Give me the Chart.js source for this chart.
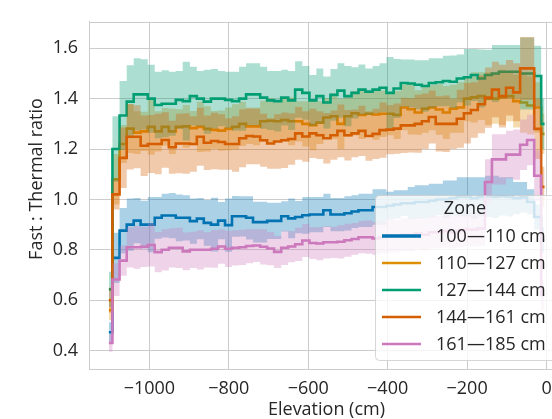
<!DOCTYPE html>
<html>
<head>
<meta charset="utf-8">
<script src="https://cdn.jsdelivr.net/npm/chart.js@4.4.1/dist/chart.umd.min.js"></script>
<style>
  html, body { margin: 0; padding: 0; overflow: hidden; background: #fff; }
</style>
</head>
<body>
<canvas id="chart" width="600" height="419"></canvas>
<script>
// bin centres (cm)
const elevation = [
  -1102, -1084, -1066, -1048, -1031, -1013, -995, -978, -960, -942,
  -925, -907, -889, -872, -854, -836, -818, -801, -783, -765,
  -748, -730, -712, -695, -677, -659, -642, -624, -606, -588,
  -571, -553, -535, -518, -500, -482, -465, -447, -429, -412,
  -394, -376, -358, -341, -323, -305, -288, -270, -252, -235,
  -217, -199, -182, -164, -146, -129, -111, -93, -75, -58,
  -40, -22, -5
];

const zones = ["100\u2014110 cm", "110\u2014127 cm", "127\u2014144 cm", "144\u2014161 cm", "161\u2014185 cm"];
const legendTitle = "Zone";
const xTitle = "Elevation (cm)";
const yTitle = "Fast : Thermal ratio";

const xTicks = [-1000, -800, -600, -400, -200, 0];
const yTicks = [0.4, 0.6, 0.8, 1.0, 1.2, 1.4, 1.6];

// zone 100-110
const ratioZ1 = [
  0.473, 0.768, 0.876, 0.90, 0.916, 0.90, 0.90, 0.927, 0.936, 0.936,
  0.927, 0.927, 0.914, 0.924, 0.907, 0.90, 0.916, 0.898, 0.933, 0.933,
  0.927, 0.91, 0.91, 0.915, 0.915, 0.933, 0.925, 0.93, 0.937, 0.94,
  0.94, 0.957, 0.94, 0.94, 0.945, 0.952, 0.957, 0.957, 0.97, 0.97,
  0.975, 0.98, 0.985, 0.985, 0.99, 0.99, 0.995, 1.0, 1.0, 1.005,
  1.01, 1.01, 1.005, 1.01, 1.012, 1.01, 1.012, 1.01, 1.005, 1.008,
  0.99, 0.93, 0.84
];
const errZ1 = [
  0.04, 0.10, 0.09, 0.104, 0.09, 0.095, 0.11, 0.083, 0.087, 0.09,
  0.093, 0.09, 0.09, 0.082, 0.091, 0.107, 0.074, 0.106, 0.081, 0.08,
  0.086, 0.081, 0.081, 0.072, 0.072, 0.06, 0.079, 0.064, 0.073, 0.07,
  0.07, 0.066, 0.066, 0.066, 0.068, 0.065, 0.066, 0.066, 0.07, 0.07,
  0.055, 0.056, 0.051, 0.064, 0.066, 0.066, 0.067, 0.062, 0.075, 0.07,
  0.078, 0.078, 0.083, 0.078, 0.082, 0.084, 0.076, 0.078, 0.064, 0.061,
  0.05, 0.05, 0.05
];

// zone 110-127
const ratioZ2 = [
  0.56, 1.08, 1.22, 1.281, 1.265, 1.27, 1.288, 1.27, 1.288, 1.27,
  1.288, 1.29, 1.283, 1.288, 1.28, 1.276, 1.273, 1.28, 1.288, 1.30,
  1.29, 1.29, 1.31, 1.312, 1.31, 1.315, 1.31, 1.31, 1.30, 1.295,
  1.305, 1.325, 1.33, 1.30, 1.33, 1.342, 1.335, 1.34, 1.337, 1.34,
  1.34, 1.335, 1.365, 1.358, 1.345, 1.36, 1.365, 1.357, 1.345, 1.36,
  1.365, 1.40, 1.405, 1.41, 1.40, 1.40, 1.405, 1.41, 1.39, 1.385,
  1.373, 1.365, 1.26
];
const errZ2 = [
  0.04, 0.10, 0.075, 0.097, 0.085, 0.078, 0.11, 0.08, 0.075, 0.09,
  0.07, 0.085, 0.068, 0.10, 0.09, 0.075, 0.08, 0.085, 0.09, 0.088,
  0.07, 0.075, 0.082, 0.09, 0.078, 0.085, 0.095, 0.08, 0.09, 0.10,
  0.085, 0.078, 0.09, 0.10, 0.082, 0.088, 0.095, 0.09, 0.10, 0.092,
  0.085, 0.095, 0.09, 0.10, 0.088, 0.095, 0.09, 0.10, 0.105, 0.095,
  0.10, 0.09, 0.10, 0.095, 0.105, 0.10, 0.11, 0.10, 0.105, 0.12,
  0.115, 0.10, 0.08
];

// zone 127-144
const ratioZ3 = [
  0.643, 1.20, 1.333, 1.388, 1.417, 1.417, 1.40, 1.375, 1.38, 1.38,
  1.395, 1.39, 1.41, 1.40, 1.388, 1.40, 1.40, 1.395, 1.39, 1.40,
  1.417, 1.417, 1.404, 1.393, 1.39, 1.404, 1.393, 1.436, 1.423, 1.393,
  1.41, 1.385, 1.415, 1.432, 1.41, 1.423, 1.436, 1.428, 1.436, 1.443,
  1.423, 1.44, 1.462, 1.46, 1.455, 1.45, 1.462, 1.465, 1.47, 1.467,
  1.48, 1.485, 1.494, 1.48, 1.494, 1.50, 1.507, 1.507, 1.507, 1.50,
  1.50, 1.49, 1.30
];
const errZ3 = [
  0.07, 0.13, 0.137, 0.145, 0.143, 0.139, 0.135, 0.132, 0.133, 0.127,
  0.115, 0.156, 0.117, 0.11, 0.127, 0.118, 0.11, 0.112, 0.117, 0.127,
  0.123, 0.123, 0.123, 0.117, 0.12, 0.111, 0.117, 0.112, 0.107, 0.101,
  0.11, 0.103, 0.103, 0.108, 0.12, 0.102, 0.10, 0.092, 0.094, 0.097,
  0.142, 0.117, 0.093, 0.095, 0.097, 0.102, 0.098, 0.095, 0.10, 0.104,
  0.095, 0.112, 0.103, 0.115, 0.10, 0.113, 0.106, 0.106, 0.106, 0.143,
  0.143, 0.12, 0.10
];

// zone 144-161
const ratioZ4 = [
  0.60, 1.02, 1.165, 1.249, 1.249, 1.213, 1.22, 1.22, 1.236, 1.207,
  1.222, 1.222, 1.22, 1.249, 1.225, 1.232, 1.228, 1.22, 1.22, 1.243,
  1.252, 1.25, 1.235, 1.222, 1.23, 1.235, 1.24, 1.262, 1.25, 1.262,
  1.255, 1.243, 1.255, 1.272, 1.255, 1.262, 1.272, 1.252, 1.26, 1.275,
  1.277, 1.281, 1.294, 1.294, 1.30, 1.31, 1.327, 1.30, 1.30, 1.30,
  1.32, 1.342, 1.355, 1.378, 1.404, 1.436, 1.41, 1.443, 1.425, 1.52,
  1.52, 1.28, 1.05
];
const errZ4 = [
  0.05, 0.06, 0.12, 0.13, 0.125, 0.12, 0.115, 0.12, 0.11, 0.105,
  0.118, 0.12, 0.11, 0.115, 0.108, 0.112, 0.11, 0.102, 0.11, 0.115,
  0.112, 0.11, 0.105, 0.10, 0.108, 0.11, 0.102, 0.105, 0.10, 0.098,
  0.095, 0.10, 0.098, 0.105, 0.10, 0.095, 0.10, 0.098, 0.10, 0.11,
  0.098, 0.10, 0.11, 0.108, 0.115, 0.11, 0.105, 0.11, 0.112, 0.10,
  0.115, 0.12, 0.11, 0.115, 0.12, 0.11, 0.125, 0.11, 0.115, 0.125,
  0.125, 0.12, 0.08
];

// zone 161-185
const ratioZ5 = [
  0.43, 0.682, 0.757, 0.81, 0.81, 0.812, 0.819, 0.791, 0.80, 0.808,
  0.808, 0.794, 0.80, 0.80, 0.80, 0.804, 0.813, 0.804, 0.808, 0.81,
  0.815, 0.817, 0.812, 0.805, 0.792, 0.808, 0.813, 0.822, 0.837, 0.827,
  0.825, 0.83, 0.83, 0.832, 0.838, 0.843, 0.85, 0.85, 0.845, 0.85,
  0.855, 0.855, 0.86, 0.86, 0.865, 0.86, 0.87, 0.87, 0.875, 0.87,
  0.875, 0.88, 0.88, 0.885, 1.069, 1.159, 1.159, 1.178, 1.178, 1.217,
  1.236, 1.094, 0.62
];
const errZ5 = [
  0.035, 0.065, 0.06, 0.08, 0.085, 0.08, 0.085, 0.08, 0.082, 0.078,
  0.08, 0.075, 0.072, 0.078, 0.07, 0.075, 0.068, 0.072, 0.07, 0.07,
  0.068, 0.065, 0.07, 0.066, 0.064, 0.068, 0.062, 0.066, 0.065, 0.063,
  0.066, 0.064, 0.062, 0.066, 0.065, 0.063, 0.064, 0.066, 0.065, 0.065,
  0.066, 0.064, 0.065, 0.066, 0.065, 0.064, 0.066, 0.065, 0.066, 0.065,
  0.064, 0.066, 0.068, 0.07, 0.09, 0.10, 0.10, 0.095, 0.10, 0.10,
  0.10, 0.10, 0.06
];

const ratios = [ratioZ1, ratioZ2, ratioZ3, ratioZ4, ratioZ5];
const errs = [errZ1, errZ2, errZ3, errZ4, errZ5];

// seaborn colorblind
const palette = ["#0173b2", "#de8f05", "#029e73", "#d55e00", "#cc78bc"];
const FONT = "'Open Sans', Lato, sans-serif";
const FSIZE = 18;
const TEXT = "#262626";
const GRID = "#cccccc";

function withAlpha(hex, a) {
  const n = parseInt(hex.slice(1), 16);
  return `rgba(${(n >> 16) & 255},${(n >> 8) & 255},${n & 255},${a})`;
}

const datasets = [];
ratios.forEach((vals, k) => {
  const base = 100 - 10 * k;  // later zones drawn on top
  const hi = vals.map((v, i) => ({ x: elevation[i], y: v + errs[k][i] }));
  const lo = vals.map((v, i) => ({ x: elevation[i], y: v - errs[k][i] }));
  const mid = vals.map((v, i) => ({ x: elevation[i], y: v }));
  datasets.push({
    data: hi, stepped: "middle", pointRadius: 0, borderWidth: 0,
    borderColor: "rgba(0,0,0,0)", fill: false, order: base + 2
  });
  datasets.push({
    data: lo, stepped: "middle", pointRadius: 0, borderWidth: 0,
    borderColor: "rgba(0,0,0,0)", fill: "-1",
    backgroundColor: withAlpha(palette[k], 0.33), order: base + 1
  });
  datasets.push({
    label: zones[k], data: mid, stepped: "middle", pointRadius: 0,
    borderWidth: 2.6, borderColor: palette[k], fill: false, order: base
  });
});

// frame + y title
const frame = {
  id: "frame",
  beforeDatasetsDraw(chart) {
    const { ctx, chartArea: a } = chart;
    ctx.save();
    ctx.strokeStyle = GRID;
    ctx.lineWidth = 1;
    ctx.strokeRect(Math.round(a.left) + 0.5, Math.round(a.top) + 0.5,
      Math.round(a.right - a.left), Math.round(a.bottom - a.top));
    ctx.restore();
  },
  afterDraw(chart) {
    const ctx = chart.ctx;
    ctx.save();
    ctx.translate(37, 179);
    ctx.rotate(-Math.PI / 2);
    ctx.fillStyle = TEXT;
    ctx.font = FSIZE + "px " + FONT;
    ctx.textAlign = "center";
    ctx.textBaseline = "middle";
    ctx.fillText(yTitle, 0, 0);
    ctx.restore();
  }
};

// matplotlib-like legend box over the plot
const zoneLegend = {
  id: "zoneLegend",
  afterDraw(chart) {
    const ctx = chart.ctx;
    const items = chart.data.datasets.filter(d => d.label);
    ctx.save();
    const x = 375.5, y = 195.5, w = 200, h = 165, r = 4;
    ctx.beginPath();
    ctx.moveTo(x + r, y);
    ctx.lineTo(x + w - r, y);
    ctx.arcTo(x + w, y, x + w, y + r, r);
    ctx.lineTo(x + w, y + h - r);
    ctx.arcTo(x + w, y + h, x + w - r, y + h, r);
    ctx.lineTo(x + r, y + h);
    ctx.arcTo(x, y + h, x, y + h - r, r);
    ctx.lineTo(x, y + r);
    ctx.arcTo(x, y, x + r, y, r);
    ctx.closePath();
    ctx.fillStyle = "rgba(255,255,255,0.8)";
    ctx.fill();
    ctx.strokeStyle = "rgba(204,204,204,0.8)";
    ctx.lineWidth = 1;
    ctx.stroke();

    ctx.fillStyle = TEXT;
    ctx.font = FSIZE + "px " + FONT;
    ctx.textBaseline = "middle";
    ctx.textAlign = "center";
    ctx.fillText(legendTitle, 465, 209);
    ctx.textAlign = "left";
    items.forEach((d, i) => {
      const yy = 236 + i * 27;
      ctx.strokeStyle = d.borderColor;
      ctx.lineWidth = i === 0 ? 3.6 : 2.6;
      ctx.beginPath();
      ctx.moveTo(382, yy);
      ctx.lineTo(421, yy);
      ctx.stroke();
      ctx.fillText(d.label, 436, yy + 1);
    });
    ctx.restore();
  }
};

new Chart(document.getElementById("chart"), {
  type: "line",
  data: { datasets: datasets },
  options: {
    responsive: false,
    animation: false,
    events: [],
    layout: { padding: { top: 12, right: 36, left: 0, bottom: 0 } },
    plugins: {
      legend: { display: false },
      tooltip: { enabled: false },
      filler: { propagate: false }
    },
    scales: {
      x: {
        type: "linear",
        min: -1152,
        max: 44,
        afterFit: s => { s.height = 50; },
        afterBuildTicks: s => { s.ticks = xTicks.map(v => ({ value: v })); },
        grid: { color: GRID, lineWidth: 1, drawTicks: false },
        border: { display: true, color: GRID },
        ticks: {
          color: TEXT,
          padding: 9,
          font: { family: FONT, size: FSIZE },
          maxRotation: 0,
          callback: v => String(v).replace("-", "\u2212")
        },
        title: {
          display: true,
          text: xTitle,
          color: TEXT,
          font: { family: FONT, size: FSIZE, lineHeight: 1 },
          padding: { top: 0, bottom: 0 }
        }
      },
      y: {
        min: 0.327,
        max: 1.705,
        afterFit: s => { s.width = 89; },
        afterBuildTicks: s => { s.ticks = yTicks.map(v => ({ value: v })); },
        grid: { color: GRID, lineWidth: 1, drawTicks: false },
        border: { display: true, color: GRID },
        ticks: {
          color: TEXT,
          padding: 11,
          font: { family: FONT, size: FSIZE },
          callback: v => v.toFixed(1)
        }
      }
    }
  },
  plugins: [frame, zoneLegend]
});
</script>
</body>
</html>
